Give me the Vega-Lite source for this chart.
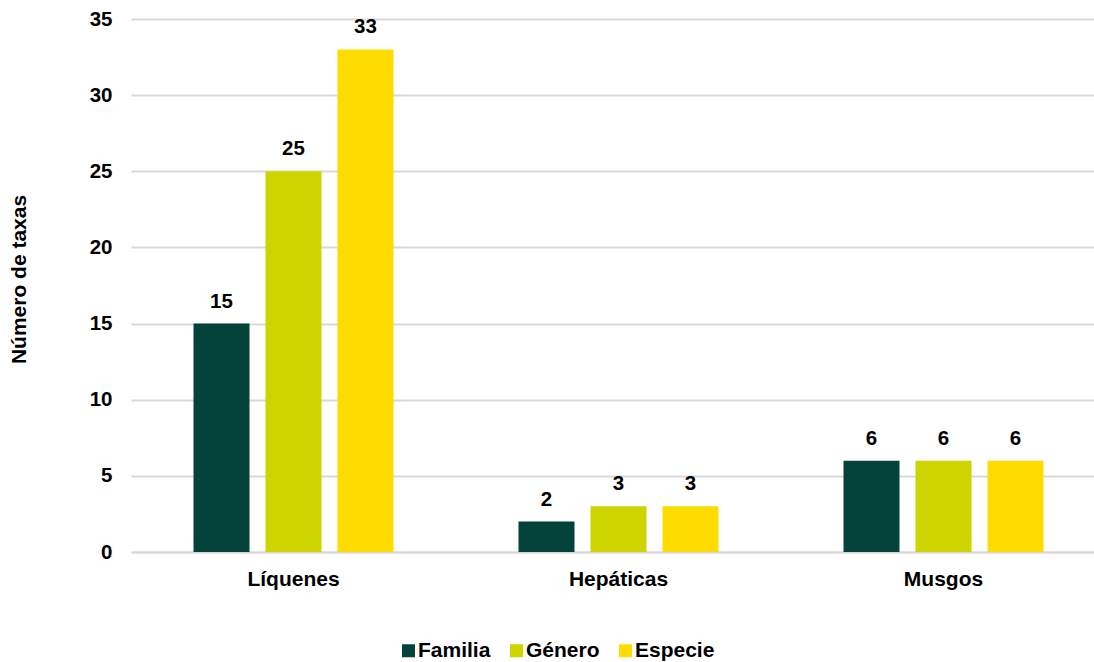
{
  "$schema": "https://vega.github.io/schema/vega-lite/v6.json",
  "autosize": {"type": "none"},
  "width": 975,
  "height": 533,
  "padding": {"left": 131, "top": 19, "right": 0, "bottom": 110},
  "background": "white",
  "config": {
    "font": "Liberation Sans",
    "view": {"stroke": null}
  },
  "data": {
    "values": [
      {"grupo": "Líquenes", "nivel": "Familia", "valor": 15},
      {"grupo": "Líquenes", "nivel": "Género", "valor": 25},
      {"grupo": "Líquenes", "nivel": "Especie", "valor": 33},
      {"grupo": "Hepáticas", "nivel": "Familia", "valor": 2},
      {"grupo": "Hepáticas", "nivel": "Género", "valor": 3},
      {"grupo": "Hepáticas", "nivel": "Especie", "valor": 3},
      {"grupo": "Musgos", "nivel": "Familia", "valor": 6},
      {"grupo": "Musgos", "nivel": "Género", "valor": 6},
      {"grupo": "Musgos", "nivel": "Especie", "valor": 6}
    ]
  },
  "encoding": {
    "x": {
      "field": "grupo", "type": "nominal",
      "sort": ["Líquenes", "Hepáticas", "Musgos"],
      "scale": {"paddingInner": 0, "paddingOuter": 0},
      "axis": {
        "title": null, "labelAngle": 0, "ticks": false, "domain": true,
        "domainColor": "#d9d9d9", "domainWidth": 2,
        "labelFont": "Liberation Sans", "labelFontSize": 21, "labelFontWeight": "bold",
        "labelColor": "#000000", "labelPadding": 16
      }
    },
    "xOffset": {
      "field": "nivel", "type": "nominal",
      "sort": ["Familia", "Género", "Especie"],
      "scale": {"paddingInner": 0.222, "paddingOuter": 0.868}
    },
    "y": {
      "field": "valor", "type": "quantitative",
      "scale": {"domain": [0, 35], "nice": false},
      "axis": {
        "values": [0, 5, 10, 15, 20, 25, 30, 35],
        "title": "Número de taxas",
        "titleFont": "Liberation Sans", "titleFontSize": 21, "titleFontWeight": "bold",
        "titleColor": "#000000", "titleX": -112, "titleY": 260, "titleAngle": -90,
        "titleAlign": "center", "titleBaseline": "middle",
        "labelFont": "Liberation Sans", "labelFontSize": 20.5, "labelFontWeight": "bold",
        "labelColor": "#000000", "labelPadding": 19,
        "ticks": false, "domain": false,
        "grid": true, "gridColor": "#d9d9d9", "gridWidth": 2
      }
    }
  },
  "layer": [
    {
      "mark": {"type": "bar"},
      "encoding": {
        "color": {
          "field": "nivel", "type": "nominal",
          "sort": ["Familia", "Género", "Especie"],
          "scale": {"domain": ["Familia", "Género", "Especie"], "range": ["#03433A", "#CDD400", "#FFDC00"]},
          "legend": {
            "title": null, "orient": "none", "legendX": 267, "legendY": 621,
            "direction": "horizontal", "symbolType": "square", "symbolSize": 169,
            "symbolStrokeWidth": 0, "symbolOffset": 0, "padding": 0,
            "labelFont": "Liberation Sans", "labelFontSize": 21, "labelFontWeight": "bold",
            "labelColor": "#000000", "labelOffset": -1, "columnPadding": 15
          }
        }
      }
    },
    {
      "mark": {"type": "text", "baseline": "alphabetic", "dy": -16, "font": "Liberation Sans", "fontSize": 20.5, "fontWeight": "bold", "color": "#000000"},
      "encoding": {"text": {"field": "valor", "type": "quantitative"}}
    }
  ]
}
